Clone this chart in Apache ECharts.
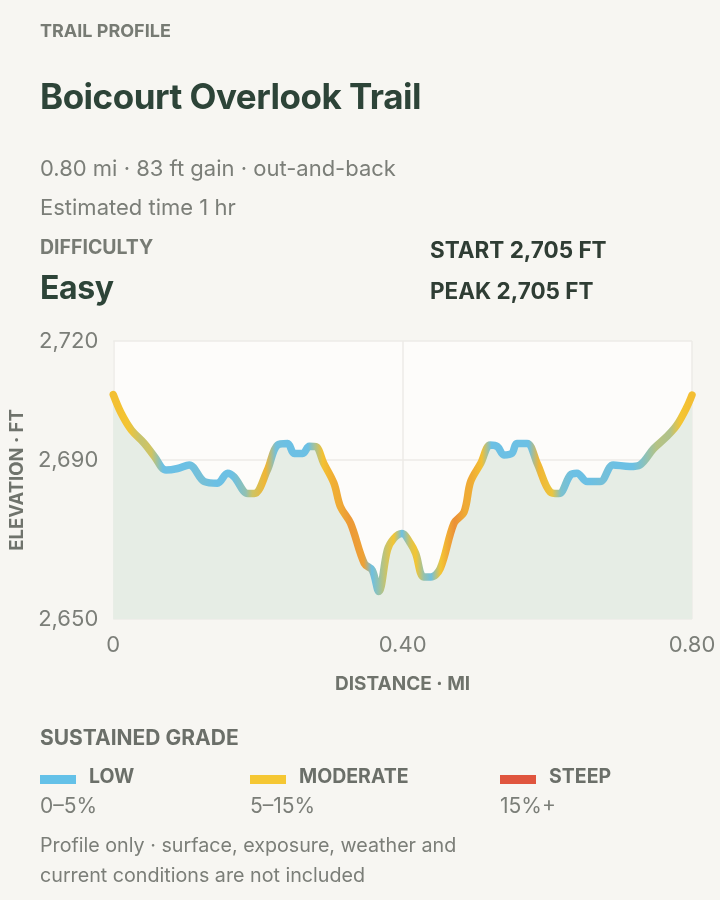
<!DOCTYPE html>
<html>
<head>
<meta charset="utf-8">
<script src="https://cdn.jsdelivr.net/npm/echarts@6/dist/echarts.min.js"></script>
<style>
  html, body { margin: 0; padding: 0; background: #f7f6f2; }
  body { width: 720px; height: 900px; position: relative; overflow: hidden; font-family: Inter, "Noto Sans", sans-serif; }
  .t { position: absolute; left: 40px; white-space: nowrap; }
  .kicker { font-weight: 700; font-size: 18px; color: #777b74; }
  .dark { color: #2d4438; font-weight: 700; }
  .muted { font-size: 22px; color: #7b7e78; }
  .sw { position: absolute; width: 36px; height: 9px; }
  #chart { position: absolute; left: 0; top: 0; width: 720px; height: 900px; }
</style>
</head>
<body>
<div id="chart"></div>
<div class="t kicker" style="top:20px;">TRAIL PROFILE</div>
<div class="t dark" style="top:75px;font-size:35px;letter-spacing:-0.5px;">Boicourt Overlook Trail</div>
<div class="t muted" style="top:155px;">0.80 mi · 83 ft gain · out-and-back</div>
<div class="t muted" style="top:194px;">Estimated time 1 hr</div>
<div class="t kicker" style="top:235px;font-size:19.5px;">DIFFICULTY</div>
<div class="t dark" style="top:268px;font-size:32px;letter-spacing:-0.4px;">Easy</div>
<div class="t dark" style="top:236px;left:430px;font-size:22.5px;color:#2f3d34;">START 2,705 FT</div>
<div class="t dark" style="top:277px;left:430px;font-size:22.5px;color:#2f3d34;">PEAK 2,705 FT</div>

<div class="t kicker" style="top:725px;font-size:21px;color:#6b6f69;">SUSTAINED GRADE</div>
<div class="sw" style="left:40px;top:775px;background:#64c1e8;"></div>
<div class="t kicker" style="top:764px;left:89px;font-size:19.5px;color:#6b6f69;">LOW</div>
<div class="sw" style="left:250px;top:775px;background:#f5c733;"></div>
<div class="t kicker" style="top:764px;left:299px;font-size:19.5px;color:#6b6f69;">MODERATE</div>
<div class="sw" style="left:500px;top:775px;background:#e0553e;"></div>
<div class="t kicker" style="top:764px;left:549px;font-size:19.5px;color:#6b6f69;">STEEP</div>
<div class="t muted" style="top:793px;font-size:21px;">0–5%</div>
<div class="t muted" style="top:793px;left:250px;font-size:21px;">5–15%</div>
<div class="t muted" style="top:793px;left:500px;font-size:21px;">15%+</div>
<div class="t muted" style="top:830px;font-size:19.7px;line-height:30px;">Profile only · surface, exposure, weather and<br>current conditions are not included</div>

<script>
// distance along trail (mi) and elevation (ft)
var distance = [0, 0.011, 0.025, 0.043, 0.057, 0.073, 0.089, 0.105, 0.126, 0.144,
  0.158, 0.167, 0.186, 0.195, 0.213, 0.227, 0.241, 0.250, 0.262, 0.271,
  0.280, 0.291, 0.305, 0.314, 0.328, 0.347, 0.358, 0.367, 0.379, 0.388,
  0.399, 0.411, 0.418, 0.429, 0.439, 0.452, 0.471, 0.485, 0.494, 0.508,
  0.521, 0.531, 0.540, 0.551, 0.558, 0.572, 0.586, 0.604, 0.616, 0.632,
  0.641, 0.655, 0.673, 0.691, 0.714, 0.728, 0.747, 0.765, 0.779, 0.793, 0.80];
var elevation = [2706.5, 2701.8, 2697.6, 2694.2, 2690.9, 2687.5, 2687.9, 2688.8, 2684.6, 2684.2,
  2686.7, 2685.8, 2681.6, 2681.6, 2687.5, 2693.8, 2694.2, 2691.7, 2691.7, 2693.5,
  2693.4, 2689.2, 2684.2, 2678.3, 2674.1, 2664.0, 2662.3, 2656.9, 2667.4, 2670.3,
  2671.5, 2669.0, 2666.5, 2660.6, 2660.6, 2662.7, 2674.1, 2677.0, 2684.6, 2689.2,
  2693.8, 2693.4, 2691.3, 2691.7, 2694.2, 2694.2, 2689.2, 2682.0, 2681.6, 2686.3,
  2686.7, 2684.6, 2684.6, 2688.8, 2688.4, 2688.8, 2692.9, 2695.9, 2698.8, 2703.4, 2706.4];
var yTicks = [2650, 2690, 2720];

var chart = echarts.init(document.getElementById('chart'));

// sustained grade colour: rolling grade over a short window, low -> moderate -> steep
var BLUE = [108, 192, 228], YELLOW = [244, 197, 50], RED = [224, 85, 62];
function mix(a, b, t) {
  return 'rgb(' + a.map(function (v, k) { return Math.round(v + (b[k] - v) * t); }).join(',') + ')';
}
function gradeColor(g) {
  if (g <= 2) return mix(BLUE, BLUE, 0);
  if (g <= 5) return mix(BLUE, YELLOW, (g - 2) / 3);
  if (g <= 6.5) return mix(YELLOW, YELLOW, 0);
  if (g <= 8) return mix(YELLOW, RED, 0.28 * (g - 6.5) / 1.5);
  return mix(YELLOW, RED, Math.min(1, 0.28 + 0.72 * (g - 8) / 7));
}
var stops = distance.map(function (d, i) {
  var w = 0.025, j1 = i, j2 = i;
  while (j1 > 0 && distance[j1 - 1] >= d - w) j1--;
  while (j2 < distance.length - 1 && distance[j2 + 1] <= d + w) j2++;
  var g = Math.abs(elevation[j2] - elevation[j1]) / ((distance[j2] - distance[j1]) * 5280) * 100;
  return { offset: d / 0.8, color: gradeColor(g) };
});

chart.setOption({
  animation: false,
  grid: { left: 112, right: 28, top: 341, bottom: 281, show: true, backgroundColor: '#fdfcfa', borderWidth: 0 },
  xAxis: {
    type: 'value', min: 0, max: 0.8, interval: 0.4,
    name: 'DISTANCE · MI', nameLocation: 'middle', nameGap: 56,
    nameTextStyle: { fontFamily: 'Inter', fontWeight: 700, fontSize: 19, color: '#6f736c' },
    axisLine: { show: false }, axisTick: { show: false },
    axisLabel: { fontFamily: 'Inter', fontSize: 22, color: '#7b7e78', margin: 15,
      formatter: function (v) { return v === 0 ? '0' : v.toFixed(2); } },
    splitLine: { lineStyle: { color: '#ecebe7', width: 1.5 } }
  },
  yAxis: {
    type: 'value', min: 2650, max: 2720,
    name: 'ELEVATION · FT', nameLocation: 'middle', nameGap: 85, nameRotate: 90,
    nameTextStyle: { fontFamily: 'Inter', fontWeight: 700, fontSize: 18.5, color: '#6f736c' },
    axisLine: { show: false },
    axisTick: { show: false, customValues: yTicks },
    axisLabel: { fontFamily: 'Inter', fontSize: 22, color: '#7b7e78', margin: 15, customValues: yTicks,
      formatter: function (v) { return v.toLocaleString('en-US'); } },
    splitLine: { lineStyle: { color: '#ecebe7', width: 1.5 } }
  },
  series: [{
    type: 'line',
    data: distance.map(function (d, i) { return [d, elevation[i]]; }),
    smooth: 0.35,
    showSymbol: false,
    lineStyle: { width: 7.5, cap: 'round', join: 'round',
      color: new echarts.graphic.LinearGradient(0, 0, 1, 0, stops) },
    areaStyle: { color: '#e6ede5', opacity: 1 },
    z: 3
  }]
});
</script>
</body>
</html>
